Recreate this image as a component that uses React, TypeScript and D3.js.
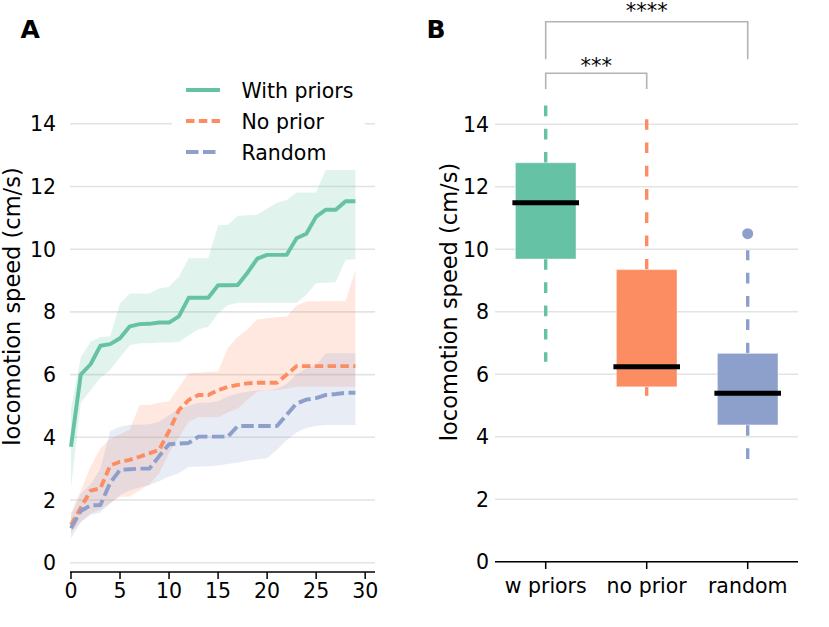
import React from "react";
import * as d3 from "d3";

const steps = [0,1,2,3,4,5,6,7,8,9,10,11,12,13,14,15,16,17,18,19,20,21,22,23,24,25,26,27,28,29];

const withPriorsMean = [3.7, 6.0, 6.33, 6.92, 6.97, 7.16, 7.54, 7.61, 7.62, 7.66, 7.66, 7.86, 8.45, 8.45, 8.45, 8.85, 8.85, 8.86, 9.25, 9.7, 9.82, 9.82, 9.82, 10.35, 10.49, 11.04, 11.26, 11.26, 11.53, 11.53];
const withPriorsUpper = [4.9, 6.55, 7.05, 7.2, 7.22, 8.27, 8.59, 8.59, 8.59, 8.75, 8.8, 9.12, 9.71, 9.71, 9.71, 10.76, 10.78, 11.06, 11.08, 11.1, 11.3, 11.48, 11.57, 11.81, 11.81, 11.81, 12.55, 12.55, 12.55, 12.55];
const withPriorsLower = [2.4, 5.1, 5.5, 5.9, 6.15, 6.55, 6.94, 7.0, 7.0, 7.02, 7.02, 7.05, 7.25, 7.45, 7.53, 7.95, 8.22, 8.29, 8.29, 8.29, 8.29, 8.29, 8.29, 8.29, 8.55, 8.92, 8.93, 8.95, 9.66, 9.68];

const noPriorMean = [1.2, 1.75, 2.3, 2.37, 3.1, 3.22, 3.28, 3.38, 3.49, 3.6, 4.2, 4.87, 5.19, 5.35, 5.35, 5.5, 5.61, 5.67, 5.72, 5.74, 5.74, 5.74, 6.0, 6.27, 6.27, 6.27, 6.27, 6.27, 6.27, 6.27];
const noPriorUpper = [1.6, 2.3, 3.06, 3.65, 3.95, 4.1, 4.25, 5.03, 5.03, 5.1, 5.14, 5.6, 6.04, 6.06, 6.08, 6.1, 6.85, 7.2, 7.45, 7.76, 7.8, 7.83, 7.85, 8.2, 8.33, 8.34, 8.35, 8.35, 8.35, 9.34];
const noPriorLower = [0.95, 1.3, 1.58, 1.7, 1.9, 2.1, 2.11, 2.3, 2.5, 2.85, 3.5, 4.0, 4.5, 4.64, 4.64, 4.64, 4.8, 4.92, 5.2, 5.46, 5.5, 5.51, 5.55, 5.61, 5.61, 5.61, 5.61, 5.61, 5.61, 5.61];

const randomMean = [1.1, 1.65, 1.83, 1.84, 2.55, 2.96, 2.98, 3.0, 3.0, 3.4, 3.78, 3.8, 3.82, 4.02, 4.02, 4.02, 4.02, 4.36, 4.36, 4.36, 4.36, 4.36, 4.72, 5.08, 5.2, 5.25, 5.35, 5.38, 5.42, 5.42];
const randomUpper = [1.5, 2.2, 2.5, 3.0, 4.2, 4.34, 4.4, 4.4, 4.42, 4.5, 4.7, 4.9, 5.0, 5.1, 5.1, 5.15, 5.3, 5.4, 5.45, 5.5, 5.5, 5.55, 5.7, 6.0, 6.2, 6.3, 6.68, 6.68, 6.68, 6.68];
const randomLower = [0.78, 1.3, 1.52, 1.6, 1.89, 2.16, 2.3, 2.4, 2.48, 2.6, 2.75, 2.85, 3.06, 3.06, 3.08, 3.1, 3.15, 3.2, 3.25, 3.3, 3.33, 3.6, 3.91, 4.15, 4.3, 4.37, 4.39, 4.39, 4.39, 4.39];

const seriesNames = ["With priors", "No prior", "Random"];
const seriesColors = ["#66c2a5", "#fc8d62", "#8da0cb"];
const seriesDashes = ["", "8.5,4.3", "12.5,4.5"];

const yTicks = [0, 2, 4, 6, 8, 10, 12, 14];
const xTicksA = [0, 5, 10, 15, 20, 25, 30];

const boxCategories = ["w priors", "no prior", "random"];
const boxQ1 = [9.69, 5.6, 4.38];
const boxMedian = [11.49, 6.24, 5.39];
const boxQ3 = [12.77, 9.35, 6.67];
const boxWhiskerLow = [6.4, 5.31, 3.26];
const boxWhiskerHigh = [14.65, 14.16, 9.97];
const boxOutliers = [[], [], [10.5]];

const sigPairs = [
  { a: 0, b: 1, label: "***" },
  { a: 0, b: 2, label: "****" },
];

const FONT = "DejaVu Sans";

export default function App() {
  const W = 829, H = 627;
  // Panel A scales
  const xA = d3.scaleLinear().domain([-0.1, 31]).range([70, 375]);
  const yA = d3.scaleLinear().domain([0, 14]).range([562.7, 123.8]);
  // Panel B scales
  const xB = d3.scaleLinear().domain([-0.5, 2.5]).range([495.2, 798.2]);
  const yB = d3.scaleLinear().domain([0, 14]).range([561.8, 124.3]);

  const series = [
    { mean: withPriorsMean, lo: withPriorsLower, hi: withPriorsUpper },
    { mean: noPriorMean, lo: noPriorLower, hi: noPriorUpper },
    { mean: randomMean, lo: randomLower, hi: randomUpper },
  ];

  const area = (lo: number[], hi: number[]) =>
    d3.area<number>()
      .x((d) => xA(d))
      .y0((_, i) => yA(lo[i]))
      .y1((_, i) => yA(hi[i]))(steps) || "";
  const line = (m: number[]) =>
    d3.line<number>().x((d) => xA(d)).y((_, i) => yA(m[i]))(steps) || "";

  const tickFs = 20.5;
  const labelFs = 22.5;
  const gridColor = "#e3e3e3";
  const boxW = 60.6;
  const sigColor = "#b3b3b3";

  return (
    <svg width={W} height={H} style={{ display: "block", position: "absolute", left: 0, top: 0 }} fontFamily={FONT}>
      <rect x={0} y={0} width={W} height={H} fill="#fff" />
      {/* Panel labels */}
      <text x={20.5} y={38.3} fontSize={25} fontWeight="bold">A</text>
      <text x={426.5} y={38.3} fontSize={25} fontWeight="bold">B</text>

      {/* ---------- Panel A ---------- */}
      {yTicks.map((t) => (
        <g key={"ga" + t}>
          <line x1={70} x2={375} y1={yA(t)} y2={yA(t)} stroke={gridColor} strokeWidth={1.6} />
          <text x={56} y={yA(t) + 7.5} fontSize={tickFs} textAnchor="end">{t}</text>
        </g>
      ))}
      {series.map((s, i) => (
        <path key={"band" + i} d={area(s.lo, s.hi)} fill={seriesColors[i]} fillOpacity={0.2} stroke="none" />
      ))}
      {series.map((s, i) => (
        <path key={"line" + i} d={line(s.mean)} fill="none" stroke={seriesColors[i]} strokeWidth={3.9}
          strokeDasharray={seriesDashes[i] || undefined} strokeLinejoin="round" />
      ))}
      <line x1={70} x2={375} y1={572} y2={572} stroke="#000" strokeWidth={1.5} />
      {xTicksA.map((t) => (
        <g key={"xa" + t}>
          <line x1={xA(t)} x2={xA(t)} y1={572} y2={579} stroke="#000" strokeWidth={1.5} />
          <text x={xA(t)} y={598} fontSize={tickFs} textAnchor="middle">{t}</text>
        </g>
      ))}
      <text transform={`translate(20,306.5) rotate(-90)`} fontSize={labelFs} textAnchor="middle">locomotion speed (cm/s)</text>
      {/* Legend */}
      <rect x={172} y={70} width={193} height={100} fill="#fff" />
      {seriesNames.map((n, i) => (
        <g key={"leg" + i}>
          <line x1={186} x2={220} y1={90 + i * 31} y2={90 + i * 31} stroke={seriesColors[i]} strokeWidth={3.9}
            strokeDasharray={seriesDashes[i] || undefined} />
          <text x={241.5} y={98 + i * 31} fontSize={tickFs}>{n}</text>
        </g>
      ))}

      {/* ---------- Panel B ---------- */}
      {yTicks.map((t) => (
        <g key={"gb" + t}>
          <line x1={495} x2={798} y1={yB(t)} y2={yB(t)} stroke={gridColor} strokeWidth={1.6} />
          <text x={489} y={yB(t) + 7.5} fontSize={tickFs} textAnchor="end">{t}</text>
        </g>
      ))}
      {boxCategories.map((c, i) => {
        const cx = xB(i);
        return (
          <g key={"box" + i}>
            <line x1={cx} x2={cx} y1={yB(boxQ3[i])} y2={yB(boxWhiskerHigh[i])} stroke={seriesColors[i]} strokeWidth={3.4}
              strokeDasharray="10.7,12.6" />
            <line x1={cx} x2={cx} y1={yB(boxQ1[i])} y2={yB(boxWhiskerLow[i])} stroke={seriesColors[i]} strokeWidth={3.4}
              strokeDasharray="10.7,12.6" />
            <rect x={cx - boxW / 2} y={yB(boxQ3[i])} width={boxW} height={yB(boxQ1[i]) - yB(boxQ3[i])} fill={seriesColors[i]}
              stroke="#ffffff" strokeOpacity={0.4} strokeWidth={1} />
            <line x1={cx - 33.3} x2={cx + 33.3} y1={yB(boxMedian[i])} y2={yB(boxMedian[i])} stroke="#000" strokeWidth={5} />
            {boxOutliers[i].map((o, j) => (
              <circle key={j} cx={cx} cy={yB(o)} r={5.5} fill={seriesColors[i]} />
            ))}
          </g>
        );
      })}
      <line x1={495} x2={798} y1={561.8} y2={561.8} stroke="#000" strokeWidth={1.5} />
      {boxCategories.map((c, i) => (
        <g key={"xb" + i}>
          <line x1={xB(i)} x2={xB(i)} y1={561.8} y2={569} stroke="#000" strokeWidth={1.5} />
          <text x={xB(i)} y={593} fontSize={tickFs} textAnchor="middle">{c}</text>
        </g>
      ))}
      <text transform={`translate(457,302) rotate(-90)`} fontSize={labelFs} textAnchor="middle">locomotion speed (cm/s)</text>
      {/* Significance brackets */}
      {sigPairs.map((p, k) => {
        const top = k === 0 ? 73.3 : 21.7;
        const bottom = k === 0 ? 89 : 59.3;
        const labelY = k === 0 ? 73 : 17.5;
        const x1 = xB(p.a), x2 = xB(p.b);
        return (
          <g key={"sig" + k}>
            <path d={`M${x1},${bottom} L${x1},${top} L${x2},${top} L${x2},${bottom}`} fill="none" stroke={sigColor} strokeWidth={1.6} />
            <text x={(x1 + x2) / 2} y={labelY} fontSize={21} textAnchor="middle">{p.label}</text>
          </g>
        );
      })}
    </svg>
  );
}
